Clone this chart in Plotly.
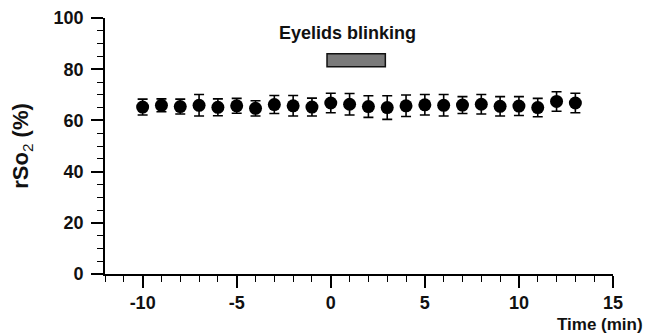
import plotly.graph_objects as go

# Data
time_min = [-10, -9, -8, -7, -6, -5, -4, -3, -2, -1, 0, 1, 2, 3, 4, 5, 6, 7, 8, 9, 10, 11, 12, 13]
rso2_mean = [65.2, 65.9, 65.4, 65.9, 65.1, 65.7, 64.7, 66.2, 65.7, 65.2, 66.8, 66.3,
             65.4, 65.0, 65.7, 66.1, 65.9, 66.0, 66.3, 65.5, 65.6, 65.0, 67.4, 66.8]
rso2_sd = [3.1, 2.5, 2.9, 4.2, 3.3, 2.9, 3.0, 3.5, 4.0, 3.5, 3.8, 4.2,
           4.2, 4.6, 4.2, 4.0, 4.2, 3.3, 3.8, 3.8, 3.7, 3.6, 3.8, 3.8]
blink_window = [-0.2, 2.9]      # minutes
blink_bar_level = [81, 86]      # % (bar drawn above data)
blink_label_pos = [0.9, 94]     # label position (min, %)
x_ticks = [-10, -5, 0, 5, 10, 15]
x_ticktext = ["-10", "-5", "0", "5", "10", "15"]
y_ticks = [0, 20, 40, 60, 80, 100]

FONT = "Liberation Sans, Arial, Helvetica, sans-serif"

fig = go.Figure()
fig.add_trace(go.Scatter(
    x=time_min, y=rso2_mean, mode="markers",
    marker=dict(color="black", size=13, line=dict(width=0)),
    error_y=dict(type="data", array=rso2_sd, visible=True,
                 color="black", thickness=1.6, width=5),
    cliponaxis=False, showlegend=False,
))

fig.add_shape(type="rect", xref="x", yref="y",
              x0=blink_window[0], x1=blink_window[1],
              y0=blink_bar_level[0], y1=blink_bar_level[1],
              fillcolor="#7a7a7a", line=dict(color="#111111", width=1.5))

fig.add_annotation(x=blink_label_pos[0], y=blink_label_pos[1], xref="x", yref="y",
                   text="<b>Eyelids blinking</b>", showarrow=False,
                   font=dict(family=FONT, size=18, color="#111111"))

fig.add_annotation(x=1.0, y=-0.205, xref="paper", yref="paper",
                   xanchor="right", yanchor="middle", xshift=32, yshift=2,
                   text="<b>Time (min)</b>", showarrow=False,
                   font=dict(family=FONT, size=17, color="#111111"))

fig.update_layout(
    width=643, height=326,
    margin=dict(l=97, r=38, t=10, b=60, autoexpand=False),
    paper_bgcolor="white", plot_bgcolor="white",
    font=dict(family=FONT, color="#111111"),
    xaxis=dict(
        range=[-12, 15], tickvals=x_ticks, ticktext=x_ticktext,
        automargin=False,
        showgrid=False, zeroline=False,
        showline=True, linecolor="black", linewidth=1.6,
        ticks="outside", ticklen=12, tickwidth=1.6, tickcolor="black",
        tickfont=dict(family=FONT, size=18, weight="bold", color="#111111"),
        minor=dict(dtick=1, tick0=0, ticks="outside", ticklen=6,
                   tickwidth=1.4, tickcolor="black", showgrid=False),
    ),
    yaxis=dict(
        range=[0, 100], tickvals=y_ticks, showgrid=False, zeroline=False,
        automargin=False,
        showline=True, linecolor="black", linewidth=1.6,
        ticks="outside", ticklen=12, tickwidth=1.6, tickcolor="black",
        ticklabelstandoff=4,
        tickfont=dict(family=FONT, size=18, weight="bold", color="#111111"),
        minor=dict(dtick=5, tick0=0, ticks="outside", ticklen=6,
                   tickwidth=1.4, tickcolor="black", showgrid=False),
        title=dict(text="<b>rSo</b><sub>2</sub><b> (%)</b>",
                   font=dict(family=FONT, size=22, color="#111111"),
                   standoff=23),
    ),
)

fig.write_html("out.html")
